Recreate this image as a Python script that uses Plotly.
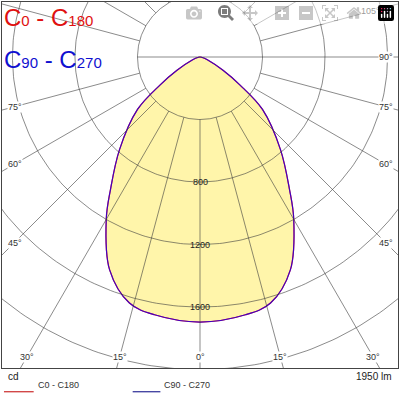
import numpy as np
import plotly.graph_objects as go

# luminous intensity (cd) vs gamma angle
gamma = [0, 10, 16, 23, 30, 34, 41, 50, 55, 60, 70, 80, 90]
c0_c180 = [1696, 1675, 1638, 1480, 1200, 1025, 785, 522, 313, 170, 50, 10, 0]
c90_c270 = [1696, 1675, 1638, 1480, 1200, 1025, 785, 522, 313, 170, 50, 10, 0]
rings = [400, 800, 1200, 1600, 2000, 2400, 2800, 3200]
ring_labels = [800, 1200, 1600]
angle_ticks = [0, 15, 30, 45, 60, 75, 90, 105]

def curve(vals):
    g = np.radians(gamma)
    v = np.array(vals, float)
    gg = np.concatenate([-g[::-1], g[1:]])
    vv = np.concatenate([v[::-1], v[1:]])
    return vv * np.sin(gg), -vv * np.cos(gg)

fig = go.Figure()
x, y = curve(c0_c180)
fig.add_trace(go.Scatter(x=x, y=y, mode="lines", fill="toself", line_shape="spline",
                         fillcolor="rgb(255,245,170)", line=dict(color="red", width=1.2)))
x, y = curve(c90_c270)
fig.add_trace(go.Scatter(x=x, y=y, mode="lines", opacity=0.75, line_shape="spline",
                         line=dict(color="blue", width=1.2)))

grid = dict(color="rgba(60,60,60,0.75)", width=0.8)
t = np.linspace(0, 2 * np.pi, 361)
for r in rings:
    fig.add_trace(go.Scatter(x=r * np.sin(t), y=r * np.cos(t), mode="lines", line=grid))
for a in range(0, 181, 15):
    for s in (1, -1):
        if a == 0 and s == -1:
            continue
        ar = np.radians(a)
        r0 = 0 if a == 90 else 400
        r1 = 400 if (a == 90 and s == -1) else 4000
        fig.add_trace(go.Scatter(x=[s * r0 * np.sin(ar), s * r1 * np.sin(ar)],
                                 y=[-r0 * np.cos(ar), -r1 * np.cos(ar)],
                                 mode="lines", line=grid))

for v in ring_labels:
    fig.add_annotation(x=0, y=-v, text=str(v), showarrow=False,
                       font=dict(size=9, color="#222"))

# angle labels at the frame
xr, ytop, ybot = 1267, 352, -1990
for a in angle_ticks:
    ar = np.radians(a)
    for s in (1, -1):
        if a == 0 and s == -1:
            continue
        if a >= 90 and s == -1:
            continue
        dx, dy = s * np.sin(ar), -np.cos(ar)
        k = min(abs((xr - 80) / dx) if dx else 1e9,
                abs((ybot + 70) / dy) if dy < 0 else abs((ytop - 60) / dy) if dy > 0 else 1e9)
        fig.add_annotation(x=dx * k, y=dy * k, text=f"{a}°", showarrow=False,
                           font=dict(size=9, color="#333"), bgcolor="white", borderpad=0)

fig.add_annotation(xref="paper", yref="paper", x=0.0, y=1.0, xanchor="left", yanchor="top",
                   text="C<span style='font-size:15px'>0</span> - C<span style='font-size:15px'>180</span>",
                   showarrow=False, font=dict(size=24, color="#e01010"))
fig.add_annotation(xref="paper", yref="paper", x=0.0, y=0.885, xanchor="left", yanchor="top",
                   text="C<span style='font-size:15px'>90</span> - C<span style='font-size:15px'>270</span>",
                   showarrow=False, font=dict(size=24, color="#1010d0"))

fig.add_annotation(xref="paper", yref="paper", x=0.01, y=-0.045, xanchor="left",
                   text="cd", showarrow=False, font=dict(size=10, color="#222"))
fig.add_annotation(xref="paper", yref="paper", x=0.99, y=-0.045, xanchor="right",
                   text="1950 lm", showarrow=False, font=dict(size=10, color="#222"))
fig.add_shape(type="line", xref="paper", yref="paper", x0=0.005, x1=0.08, y0=-0.065, y1=-0.065,
              line=dict(color="#c00000", width=1))
fig.add_annotation(xref="paper", yref="paper", x=0.085, y=-0.065, xanchor="left",
                   text="C0 - C180", showarrow=False, font=dict(size=9, color="#333"))
fig.add_shape(type="line", xref="paper", yref="paper", x0=0.33, x1=0.4, y0=-0.065, y1=-0.065,
              line=dict(color="#000080", width=1))
fig.add_annotation(xref="paper", yref="paper", x=0.405, y=-0.065, xanchor="left",
                   text="C90 - C270", showarrow=False, font=dict(size=9, color="#333"))

ax = dict(showgrid=False, zeroline=False, showticklabels=False, ticks="",
          showline=True, mirror=True, linecolor="#444", linewidth=1)
fig.update_xaxes(range=[-xr, xr], **ax)
fig.update_yaxes(range=[ybot, ytop], **ax)
fig.update_layout(width=400, height=400, margin=dict(l=2, r=2, t=2, b=32),
                  showlegend=False, plot_bgcolor="white", paper_bgcolor="white",
                  font=dict(family="Liberation Sans"))
fig.write_html("out.html", post_script="document.body.style.margin='0';")
